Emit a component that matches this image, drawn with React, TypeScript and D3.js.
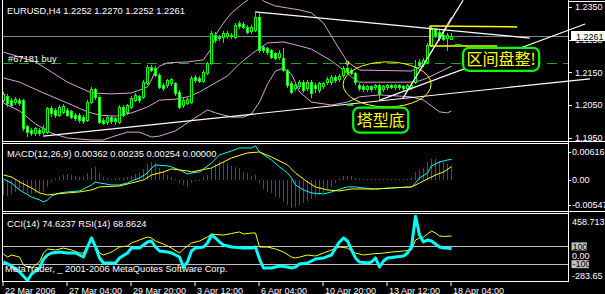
import React from "react";
import * as d3 from "d3";

const FONT = "'Liberation Sans', Arial, sans-serif";
const CJK = "'Noto Sans CJK SC', sans-serif";

// ---- H4 candles, bar 0 = 22 Mar 2006 ----
const opens = [1.2065,1.2078,1.2065,1.2059,1.2065,1.2065,1.1986,1.1974,1.1965,1.1974,1.1968,1.1968,1.2041,1.2035,1.2019,1.2029,1.2035,1.2032,1.2019,1.2019,1.2013,1.2004,1.2059,1.2099,1.2075,1.2004,1.1998,1.2013,1.2010,1.1998,1.2044,1.2029,1.2044,1.2065,1.2078,1.2075,1.2117,1.2166,1.2163,1.2142,1.2111,1.2111,1.2117,1.2117,1.2090,1.2050,1.2056,1.2059,1.2136,1.2133,1.2124,1.2148,1.2179,1.2264,1.2258,1.2258,1.2261,1.2264,1.2258,1.2301,1.2298,1.2289,1.2277,1.2280,1.2319,1.2228,1.2225,1.2218,1.2209,1.2197,1.2194,1.2157,1.2117,1.2102,1.2108,1.2120,1.2102,1.2120,1.2111,1.2096,1.2108,1.2120,1.2120,1.2136,1.2130,1.2142,1.2163,1.2157,1.2148,1.2111,1.2108,1.2099,1.2108,1.2105,1.2111,1.2099,1.2105,1.2111,1.2105,1.2111,1.2108,1.2102,1.2105,1.2120,1.2182,1.2176,1.2182,1.2234,1.2283,1.2273,1.2264,1.2255,1.2252];
const highs = [1.2090,1.2084,1.2072,1.2075,1.2072,1.2068,1.1989,1.1980,1.1983,1.1980,1.1989,1.2044,1.2047,1.2041,1.2050,1.2053,1.2041,1.2035,1.2026,1.2026,1.2019,1.2065,1.2105,1.2102,1.2081,1.2010,1.2016,1.2016,1.2013,1.2050,1.2050,1.2053,1.2078,1.2087,1.2081,1.2127,1.2172,1.2172,1.2169,1.2148,1.2117,1.2130,1.2133,1.2120,1.2096,1.2072,1.2075,1.2139,1.2142,1.2139,1.2157,1.2182,1.2277,1.2273,1.2264,1.2277,1.2277,1.2270,1.2301,1.2307,1.2304,1.2295,1.2295,1.2332,1.2332,1.2234,1.2228,1.2221,1.2212,1.2218,1.2225,1.2160,1.2124,1.2114,1.2127,1.2127,1.2127,1.2127,1.2117,1.2120,1.2120,1.2136,1.2142,1.2142,1.2145,1.2169,1.2179,1.2163,1.2151,1.2117,1.2114,1.2111,1.2111,1.2114,1.2114,1.2111,1.2114,1.2114,1.2114,1.2114,1.2111,1.2114,1.2117,1.2188,1.2191,1.2194,1.2240,1.2289,1.2286,1.2280,1.2270,1.2270,1.2270];
const lows = [1.2059,1.2047,1.2044,1.2053,1.2050,1.1974,1.1955,1.1959,1.1959,1.1959,1.1962,1.1965,1.2016,1.2013,1.2016,1.2026,1.2016,1.2010,1.2004,1.1998,1.1995,1.2001,1.2056,1.2068,1.1995,1.1992,1.1992,1.1995,1.1992,1.1995,1.2016,1.2023,1.2041,1.2062,1.2059,1.2072,1.2114,1.2154,1.2139,1.2102,1.2096,1.2105,1.2111,1.2081,1.2041,1.2044,1.2053,1.2056,1.2120,1.2120,1.2120,1.2145,1.2176,1.2243,1.2249,1.2243,1.2255,1.2255,1.2255,1.2286,1.2286,1.2270,1.2270,1.2277,1.2212,1.2212,1.2206,1.2194,1.2191,1.2191,1.2154,1.2105,1.2087,1.2096,1.2102,1.2090,1.2096,1.2075,1.2090,1.2090,1.2102,1.2114,1.2114,1.2120,1.2124,1.2136,1.2148,1.2145,1.2114,1.2096,1.2093,1.2093,1.2093,1.2099,1.2065,1.2093,1.2099,1.2102,1.2099,1.2099,1.2096,1.2096,1.2099,1.2117,1.2166,1.2169,1.2179,1.2231,1.2258,1.2249,1.2249,1.2218,1.2252];
const closes = [1.2084,1.2056,1.2050,1.2068,1.2056,1.1980,1.1968,1.1965,1.1980,1.1965,1.1980,1.2041,1.2026,1.2019,1.2044,1.2047,1.2019,1.2013,1.2010,1.2004,1.2001,1.2059,1.2099,1.2075,1.1998,1.1995,1.2013,1.2001,1.2001,1.2044,1.2019,1.2050,1.2072,1.2081,1.2065,1.2120,1.2166,1.2157,1.2142,1.2105,1.2102,1.2127,1.2130,1.2087,1.2044,1.2065,1.2068,1.2133,1.2127,1.2124,1.2151,1.2179,1.2270,1.2249,1.2255,1.2270,1.2270,1.2261,1.2295,1.2292,1.2289,1.2273,1.2289,1.2319,1.2218,1.2218,1.2212,1.2197,1.2194,1.2209,1.2157,1.2111,1.2090,1.2111,1.2120,1.2096,1.2120,1.2087,1.2102,1.2117,1.2117,1.2130,1.2136,1.2127,1.2139,1.2163,1.2151,1.2148,1.2120,1.2102,1.2099,1.2108,1.2099,1.2111,1.2084,1.2108,1.2111,1.2105,1.2111,1.2105,1.2102,1.2111,1.2111,1.2166,1.2172,1.2188,1.2234,1.2283,1.2264,1.2255,1.2252,1.2264,1.2261];

// ---- Bollinger bands (sampled bars) ----
const bbUpIdx = [0,4,8,12,16,22,27,32,36,37,38,39,41,46,50,52,53,55,57,60,62,64,65,68,71,74,77,80,83,86,89,102,105,107,109,111,112];
const bbUp = [1.2212,1.2197,1.2182,1.2151,1.2120,1.2087,1.2084,1.2087,1.2105,1.2127,1.2157,1.2169,1.2179,1.2182,1.2188,1.2225,1.2264,1.2301,1.2332,1.2362,1.2381,1.2381,1.2368,1.2353,1.2347,1.2341,1.2332,1.2301,1.2240,1.2182,1.2157,1.2154,1.2172,1.2212,1.2255,1.2298,1.2319];
const bbMidIdx = [0,4,10,16,21,24,28,32,36,39,43,46,49,52,56,59,62,66,70,74,77,82,85,87,89,102,104,106,108,110,112];
const bbMid = [1.2133,1.2120,1.2087,1.2056,1.2029,1.2019,1.2016,1.2026,1.2044,1.2065,1.2068,1.2075,1.2090,1.2111,1.2139,1.2176,1.2206,1.2240,1.2243,1.2231,1.2221,1.2185,1.2157,1.2136,1.2120,1.2120,1.2124,1.2133,1.2145,1.2157,1.2169];
const bbLowIdx = [0,4,8,12,16,22,25,27,31,34,37,39,43,47,51,53,57,60,62,64,66,68,70,72,74,77,82,86,89,94,102,105,107,109,111,112];
const bbLow = [1.2056,1.2032,1.1992,1.1964,1.1949,1.1943,1.1943,1.1952,1.1967,1.1967,1.1952,1.1955,1.1971,1.2004,1.2035,1.2026,1.2013,1.2013,1.2023,1.2059,1.2114,1.2154,1.2163,1.2145,1.2090,1.2059,1.2050,1.2059,1.2075,1.2081,1.2075,1.2065,1.2047,1.2029,1.2026,1.2032];

// ---- MACD ----
const macdIdx = [0,2,4,7,9,10,11,12,14,16,19,22,23,24,27,29,31,32,34,36,37,38,41,42,44,46,47,49,52,54,57,59,62,63,64,67,69,71,72,73,75,77,80,82,85,86,88,90,93,97,102,103,104,106,107,109,111,112];
const macdMain = [0.00018,-0.00053,-0.00176,-0.00300,-0.00352,-0.00388,-0.00352,-0.00282,-0.00229,-0.00211,-0.00194,-0.00088,-0.00035,-0.00053,-0.00088,-0.00088,-0.00053,-0.00018,0.00035,0.00123,0.00211,0.00264,0.00247,0.00229,0.00176,0.00106,0.00123,0.00141,0.00300,0.00441,0.00511,0.00564,0.00564,0.00600,0.00493,0.00352,0.00229,0.00123,0.00035,-0.00088,-0.00176,-0.00229,-0.00247,-0.00211,-0.00141,-0.00123,-0.00123,-0.00141,-0.00159,-0.00141,-0.00123,-0.00053,0.00035,0.00123,0.00247,0.00317,0.00352,0.00362];
const sigIdx = [0,2,4,7,9,11,13,16,19,22,24,29,32,35,37,40,42,46,47,52,57,61,64,67,71,73,76,78,81,84,87,93,97,102,104,106,108,110,112];
const macdSignal = [0.00088,0.00053,-0.00035,-0.00141,-0.00229,-0.00264,-0.00247,-0.00229,-0.00211,-0.00176,-0.00123,-0.00106,-0.00053,0,0.00088,0.00141,0.00194,0.00159,0.00141,0.00211,0.00388,0.00476,0.00493,0.00405,0.00264,0.00123,-0.00035,-0.00123,-0.00176,-0.00194,-0.00159,-0.00159,-0.00141,-0.00123,-0.00053,0.00018,0.00088,0.00141,0.00235];
const macdHist = [-0.00264,-0.00282,-0.00247,-0.00211,-0.00176,-0.00194,-0.00229,-0.00247,-0.00238,-0.00229,-0.00211,-0.00123,-0.00035,0.00009,0.00053,0.00088,0.00097,0.00079,0.00062,0.00053,0.00044,0.00123,0.00211,0.00220,0.00123,0.00053,0.00026,0.00009,0.00018,0.00026,0.00032,0.00044,0.00070,0.00106,0.00123,0.00194,0.00282,0.00317,0.00300,0.00211,0.00159,0.00088,0.00053,0.00018,-0.00053,-0.00088,-0.00123,-0.00053,-0.00026,-0.00018,0.00053,0.00088,0.00211,0.00282,0.00326,0.00317,0.00282,0.00247,0.00220,0.00203,0.00141,0.00115,0.00070,0.00079,-0.00053,-0.00159,-0.00211,-0.00229,-0.00300,-0.00317,-0.00388,-0.00441,-0.00493,-0.00476,-0.00441,-0.00405,-0.00370,-0.00335,-0.00300,-0.00264,-0.00229,-0.00176,-0.00123,-0.00053,0.00012,0.00062,0.00070,0.00074,0.00041,0.00018,0.00014,0.00011,0.00009,0.00012,0.00009,0.00014,0.00016,0.00018,0.00019,0.00021,0.00023,0.00025,0.00028,0.00141,0.00176,0.00203,0.00317,0.00361,0.00370,0.00326,0.00308,0.00282,0.00254];

// ---- CCI(14) and RSI(14) ----
const cciIdx = [0,2,4,6,7,9,10,11,12,14,16,18,20,21,22,23,24,25,27,28,29,31,32,34,36,37,38,39,41,42,44,45,46,47,48,50,51,52,53,54,55,57,60,62,63,64,65,67,69,71,72,73,74,76,78,80,82,83,84,85,86,87,88,89,91,92,93,94,95,96,98,100,101,102,103,104,105,106,107,108,109,110,111,112];
const cciVal = [-75,-120,-188,-283,-210,-143,-42,3,26,37,26,26,-19,93,195,93,-30,-87,-87,-87,-30,26,82,82,150,161,93,48,37,26,-19,-132,-75,48,82,93,138,228,195,150,116,93,82,82,93,-42,-143,-143,-120,-132,-143,-132,-98,-87,-42,-30,3,82,150,195,161,60,-30,-75,-87,-75,-30,-132,-64,-30,-19,-8,26,93,440,228,150,172,161,127,93,82,82,74.62];
const rsiIdx = [0,1,2,4,5,6,7,8,9,10,11,13,15,17,19,20,21,22,23,24,25,27,29,31,32,34,36,37,38,40,42,44,45,47,49,51,52,53,55,57,59,60,62,63,64,66,68,70,72,73,74,76,78,80,82,84,86,87,88,90,92,95,97,100,102,103,104,105,106,107,108,109,110,112];
const rsiVal = [51.3,48.3,50.3,48.3,40.5,38.6,37.6,40.5,43.5,52.2,56.2,55.2,57.1,55.2,52.2,52.2,60.1,65,60.1,52.2,50.3,53.2,58.1,59.1,62,65,67.9,66.9,64,61,57.1,52.2,56.2,62,64,67.9,70.8,70.3,69.8,71.3,72.8,70.8,71.8,71.8,58.1,58.1,56.2,53.2,48.3,47.4,48.3,50.3,49.3,52.2,55.2,58.1,57.1,54.2,52.2,50.3,51.3,52.2,53.2,54.2,55.2,65,66.9,67.9,70.8,73.7,71.8,68.9,68.4,68.86];

// ---- axes ----
const priceTicks = [1.195, 1.205, 1.215, 1.225, 1.235];
const timeIdx = [0, 16, 32, 48, 64, 80, 96, 112];
const timeLabels = ["22 Mar 2006", "27 Mar 04:00", "29 Mar 20:00", "3 Apr 12:00", "6 Apr 04:00", "10 Apr 20:00", "13 Apr 12:00", "18 Apr 04:00"];
const lastPrice = 1.2261;
const orderPrice = 1.2179;

// ---- drawn objects (bar index, price) ----
const trendLines = [
  [[62.9, 1.2335], [131.6, 1.2255]],
  [[9.9, 1.1955], [146.6, 1.2130]],
  [[94.1, 1.2065], [145.4, 1.2298]],
  [[99.9, 1.2072], [114.9, 1.2371]],
];
const yellowLines = [
  [[106.6, 1.2292], [128.4, 1.2289]],
  [[106.6, 1.2231], [123.4, 1.2231]],
  [[106.6, 1.2292], [106.6, 1.2231]],
];
const ellipse = { idx: 95.9, price: 1.2113, bars: 11, dp: 0.0069 };
const notes = [
  { text: "塔型底", idx: 94.3, price: 1.2004, w: 55, h: 25 },
  { text: "区间盘整!", idx: 124.4, price: 1.2190, w: 76, h: 23 },
];
const marks = [{ idx: 86, price: 1.2050 }, { idx: 113, price: 1.2234 }];

export default function App() {
  const x = d3.scaleLinear().domain([0, 112]).range([3.5, 451.5]);
  const yP = d3.scaleLinear().domain([1.195, 1.235]).range([137.7, 7]);
  const yM = d3.scaleLinear().domain([-0.00547, 0.00616]).range([211, 145]);
  const yC = d3.scaleLinear().domain([-283.65, 458.713]).range([280.5, 214.5]);
  const yR = d3.scaleLinear().domain([30, 80]).range([275.8, 224.6]);

  const path = (xs: number[], vs: number[], sy: any) =>
    d3.line<number>().x((_, k) => x(xs[k])).y((v) => sy(v))(vs) || "";

  const txt = { fontFamily: FONT, fontSize: 9.3, fill: "#fff" } as any;
  const ax = { fontFamily: FONT, fontSize: 9, fill: "#fff" } as any;
  const yM0 = Math.round(yM(0));

  return (
    <svg width={605} height={294} style={{ position: "absolute", left: 0, top: 0, background: "#000", display: "block" }}>
      <defs>
        <clipPath id="cMain"><rect x={3} y={0} width={565} height={141} /></clipPath>
        <clipPath id="cMacd"><rect x={3} y={144} width={565} height={67} /></clipPath>
        <clipPath id="cCci"><rect x={3} y={214} width={565} height={67} /></clipPath>
      </defs>
      <rect x={0} y={0} width={605} height={294} fill="#000" />

      {/* ===== main panel ===== */}
      <g clipPath="url(#cMain)">
        <line x1={3} x2={568} y1={Math.round(yP(lastPrice)) + 0.5} y2={Math.round(yP(lastPrice)) + 0.5} stroke="#778899" />
        <line x1={3} x2={568} y1={Math.round(yP(orderPrice)) + 0.5} y2={Math.round(yP(orderPrice)) + 0.5} stroke="#1faa1f" strokeDasharray="10,6" />
        <path d={path(bbUpIdx, bbUp, yP)} fill="none" stroke="#DDA0DD" />
        <path d={path(bbMidIdx, bbMid, yP)} fill="none" stroke="#DDA0DD" />
        <path d={path(bbLowIdx, bbLow, yP)} fill="none" stroke="#DDA0DD" />
        <g shapeRendering="crispEdges">
          {opens.map((o, i) => {
            const c = closes[i];
            const cx = x(i) - 0.5;
            const hy = Math.round(yP(highs[i]));
            const ly = Math.round(yP(lows[i]));
            const top = Math.round(yP(Math.max(o, c)));
            let bot = Math.round(yP(Math.min(o, c)));
            if (bot < top + 1) bot = top + 1;
            const up = c >= o;
            return (
              <g key={i}>
                <rect x={cx} y={hy} width={1} height={Math.max(1, ly - hy + 1)} fill="#00FF00" />
                <rect x={cx - 1} y={top} width={3} height={bot - top + 1} fill="#00FF00" />
                {bot - top >= 2 && <rect x={cx} y={top + 1} width={1} height={bot - top - 1} fill={up ? "#000" : "#fff"} />}
              </g>
            );
          })}
        </g>
      </g>
      {trendLines.map((l, k) => (
        <line key={k} x1={x(l[0][0])} y1={yP(l[0][1])} x2={x(l[1][0])} y2={yP(l[1][1])} stroke="#fff" strokeWidth={1.2} />
      ))}
      {yellowLines.map((l, k) => (
        <line key={k} x1={x(l[0][0])} y1={yP(l[0][1])} x2={x(l[1][0])} y2={yP(l[1][1])} stroke="#FFFF00" strokeWidth={1.5} />
      ))}
      <ellipse cx={x(ellipse.idx)} cy={yP(ellipse.price)} rx={x(ellipse.idx + ellipse.bars) - x(ellipse.idx)}
        ry={yP(ellipse.price - ellipse.dp) - yP(ellipse.price)} fill="none" stroke="#FFFF00" />
      <circle cx={x(86)} cy={yP(orderPrice)} r={1.6} fill="none" stroke="#FFFF00" />
      {marks.map((m, k) => (
        <rect key={k} x={x(m.idx) - 0.5} y={Math.round(yP(m.price)) - 1} width={6} height={2} fill="#00FF00" />
      ))}
      {notes.map((n, k) => (
        <g key={k}>
          <rect x={x(n.idx) - n.w / 2} y={yP(n.price) - n.h / 2} width={n.w} height={n.h} rx={6} fill="#000" stroke="#00FF00" strokeWidth={2.2} />
          <text x={x(n.idx)} y={yP(n.price) + 6} textAnchor="middle" fontFamily={CJK} fontSize={16} fill="#FFFF00">{n.text}</text>
        </g>
      ))}
      <text {...txt} x={7} y={14}>EURUSD,H4  1.2252 1.2270 1.2252 1.2261</text>
      <text {...txt} x={8} y={61.5}>#67181 buy</text>

      {/* price axis */}
      {priceTicks.map((p) => (
        <g key={p}>
          <line x1={569} x2={572} y1={Math.round(yP(p)) + 0.5} y2={Math.round(yP(p)) + 0.5} stroke="#fff" />
          <text {...ax} x={575} y={yP(p) + 3.4}>{p.toFixed(4)}</text>
        </g>
      ))}
      <rect x={571} y={31} width={34} height={10} fill="#fff" />
      <text {...ax} fill="#000" x={576} y={39.6}>{lastPrice.toFixed(4)}</text>

      {/* ===== MACD panel ===== */}
      <g clipPath="url(#cMacd)">
        <g shapeRendering="crispEdges">
          {macdHist.map((v, i) => {
            const yv = yM(v);
            const prev = i === 0 ? -Infinity : macdHist[i - 1];
            const col = v >= prev ? "#FF0000" : "#008000";
            const h = Math.max(1, Math.round(Math.abs(yv - yM0)));
            const y0 = v >= 0 ? yM0 - h : yM0;
            return <rect key={i} x={x(i) - 0.5} y={y0} width={1} height={h} fill={col} />;
          })}
        </g>
        <path d={path(macdIdx, macdMain, yM)} fill="none" stroke="#00FFFF" />
        <path d={path(sigIdx, macdSignal, yM)} fill="none" stroke="#FFFF00" />
      </g>
      <text {...txt} x={7} y={157}>MACD(12,26,9) 0.00362 0.00235 0.00254 0.00000</text>
      {[
        { v: 0.00616, t: "0.00616", dy: 6.7 },
        { v: 0, t: "0.00", dy: 0 },
        { v: -0.00547, t: "-0.00547", dy: -6 },
      ].map((d) => (
        <g key={d.t}>
          <line x1={569} x2={571} y1={Math.round(yM(d.v) + d.dy) + 0.5} y2={Math.round(yM(d.v) + d.dy) + 0.5} stroke="#fff" />
          <text {...ax} x={572} y={yM(d.v) + d.dy + 3.4}>{d.t}</text>
        </g>
      ))}

      {/* ===== CCI / RSI panel ===== */}
      {[100, -100].map((lv) => (
        <line key={lv} x1={3} x2={568} y1={Math.round(yC(lv)) + 0.5} y2={Math.round(yC(lv)) + 0.5} stroke="#C0C0C0" />
      ))}
      <g clipPath="url(#cCci)">
        <path d={path(rsiIdx, rsiVal, yR)} fill="none" stroke="#FFFF00" />
        <path d={path(cciIdx, cciVal, yC)} fill="none" stroke="#00FFFF" strokeWidth={3} strokeLinejoin="round" />
      </g>
      <text {...txt} x={7} y={227}>CCI(14) 74.6237  RSI(14) 68.8624</text>
      <text {...txt} x={5} y={272}>MetaTrader, _ 2001-2006 MetaQuotes Software Corp.</text>
      <text {...ax} x={572} y={yC(458.713) + 6.7 + 3.4}>458.713</text>
      <text {...ax} x={572} y={yC(0) + 3.4}>0.00</text>
      <text {...ax} x={572} y={yC(-283.65) - 4.5 + 3.4}>-283.65</text>
      {[100, -100].map((lv) => (
        <g key={lv}>
          <rect x={571.5} y={yC(lv) - 4} width={lv > 0 ? 15.5 : 17.5} height={8} fill="#C0C0C0" />
          <text {...ax} fill="#000" x={572.5} y={yC(lv) + 3.3}>{String(lv)}</text>
        </g>
      ))}

      {/* time axis */}
      {timeIdx.map((b, k) => (
        <g key={b}>
          <line x1={x(b) - 0.5} x2={x(b) - 0.5} y1={282} y2={286} stroke="#fff" />
          <text {...ax} x={x(b) + 1.5} y={293.5}>{timeLabels[k]}</text>
        </g>
      ))}

      {/* frames */}
      <g stroke="#fff" shapeRendering="crispEdges" fill="none">
        <line x1={2} x2={605} y1={141.5} y2={141.5} />
        <line x1={2} x2={569} y1={143.5} y2={143.5} />
        <line x1={2} x2={605} y1={211.5} y2={211.5} />
        <line x1={2} x2={569} y1={213.5} y2={213.5} />
        <line x1={2} x2={569} y1={281.5} y2={281.5} />
        <line x1={2.5} x2={2.5} y1={0} y2={282} />
        <line x1={568.5} x2={568.5} y1={0} y2={282} />
        <line x1={569} x2={605} y1={1.5} y2={1.5} />
      </g>
    </svg>
  );
}
